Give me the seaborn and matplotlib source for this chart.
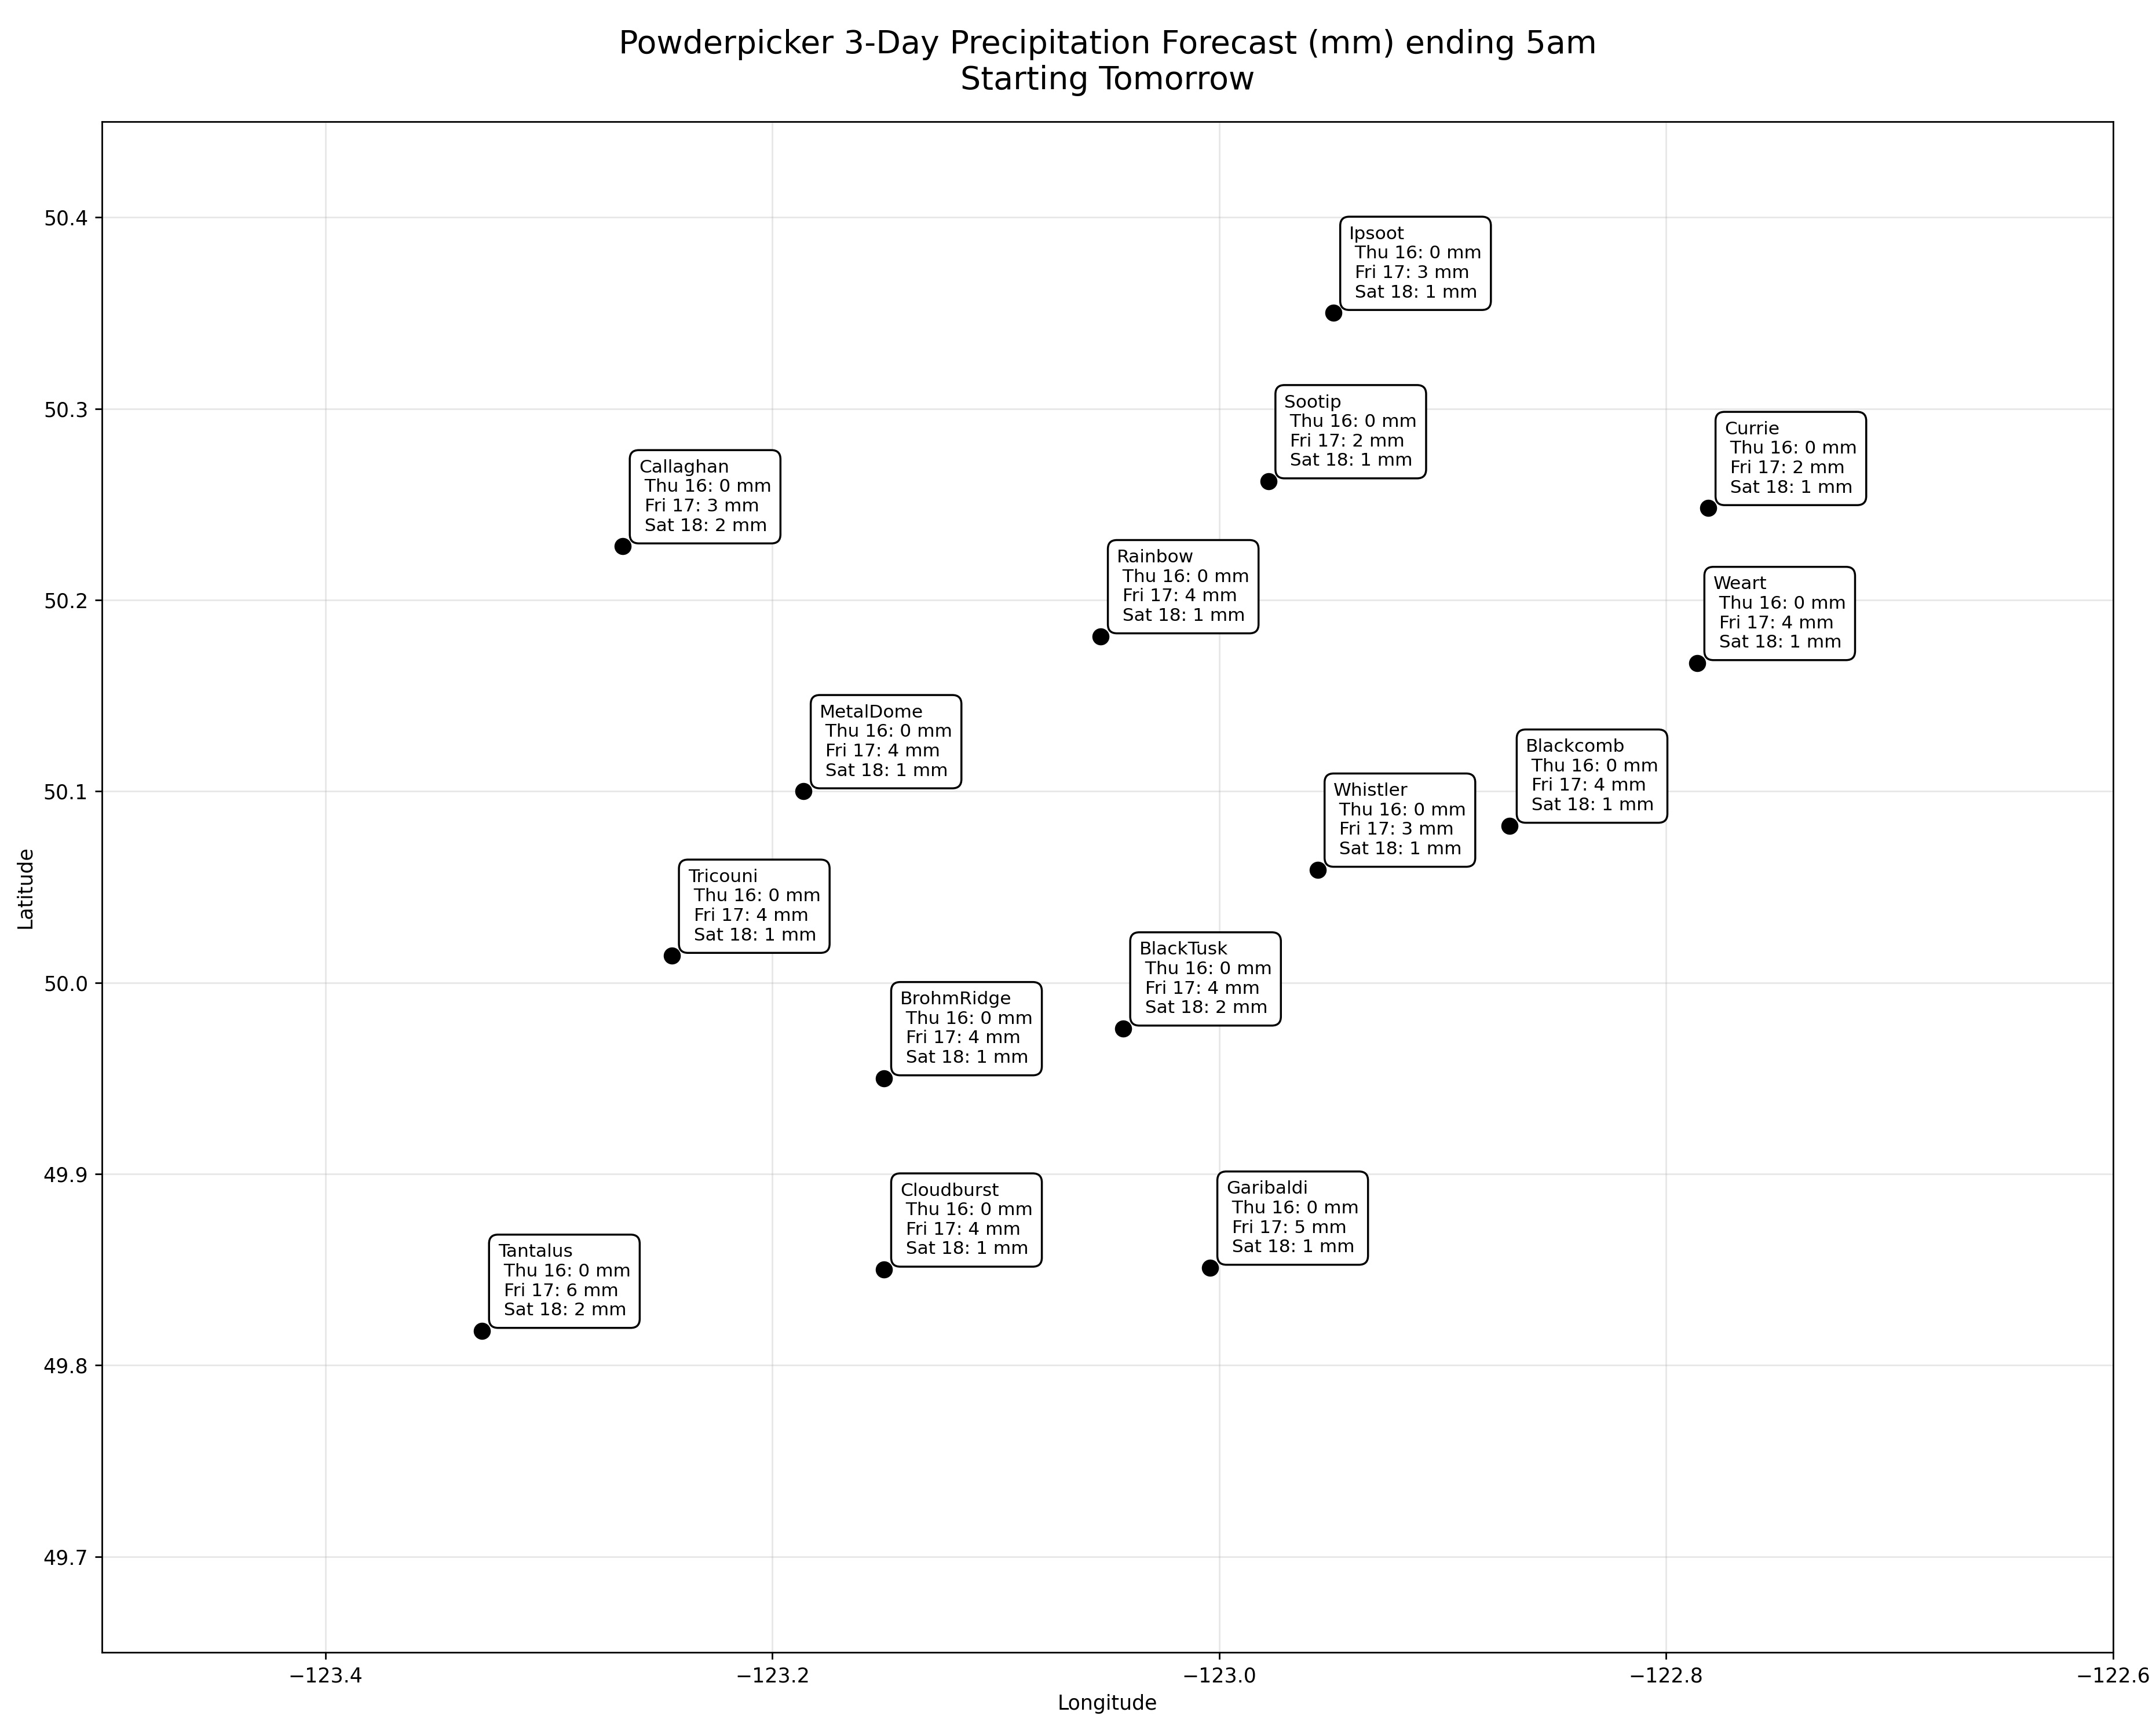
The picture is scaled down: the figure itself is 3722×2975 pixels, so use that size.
import matplotlib
matplotlib.use("Agg")
import matplotlib.pyplot as plt
import pandas as pd
import seaborn as sns

# Station data
names = ["Ipsoot", "Sootip", "Currie", "Callaghan", "Rainbow", "Weart", "MetalDome",
         "Blackcomb", "Whistler", "Tricouni", "BlackTusk", "BrohmRidge", "Cloudburst",
         "Garibaldi", "Tantalus"]
lons = [-122.949, -122.978, -122.781, -123.267, -123.053, -122.786, -123.186,
        -122.870, -122.956, -123.245, -123.043, -123.150, -123.150, -123.004, -123.330]
lats = [50.350, 50.262, 50.248, 50.228, 50.181, 50.167, 50.100,
        50.082, 50.059, 50.014, 49.976, 49.950, 49.850, 49.851, 49.818]
thu16 = [0, 0, 0, 0, 0, 0, 0, 0, 0, 0, 0, 0, 0, 0, 0]
fri17 = [3, 2, 2, 3, 4, 4, 4, 4, 3, 4, 4, 4, 4, 5, 6]
sat18 = [1, 1, 1, 2, 1, 1, 1, 1, 1, 1, 2, 1, 1, 1, 2]

df = pd.DataFrame({"name": names, "lon": lons, "lat": lats,
                   "thu": thu16, "fri": fri17, "sat": sat18})

sns.set_style("ticks", rc={"text.color": "black", "axes.labelcolor": "black",
                           "xtick.color": "black", "ytick.color": "black",
                           "axes.edgecolor": "black", "grid.color": "#b0b0b0"})
plt.rcParams['font.family'] = ['DejaVu Sans']

fig, ax = plt.subplots(figsize=(3722 / 250, 2975 / 250), dpi=250)
sns.scatterplot(data=df, x="lon", y="lat", color="black", s=64, edgecolor="black",
                linewidth=0.5, zorder=3, ax=ax)

for _, r in df.iterrows():
    label = f"{r['name']}\n Thu 16: {r['thu']} mm\n Fri 17: {r['fri']} mm\n Sat 18: {r['sat']} mm"
    ax.annotate(label, (r["lon"], r["lat"]), xytext=(8, 6), textcoords="offset points",
                fontsize=9, color="black", ha="left", va="bottom",
                bbox=dict(boxstyle="round,pad=0.5", fc="white", ec="black", lw=1))

ax.set_xlim(-123.5, -122.6)
ax.set_ylim(49.65, 50.45)
ax.set_xlabel("Longitude")
ax.set_ylabel("Latitude")
ax.set_title("Powderpicker 3-Day Precipitation Forecast (mm) ending 5am\nStarting Tomorrow",
             fontsize=16, pad=16)
ax.grid(True, alpha=0.3)
for sp in ax.spines.values():
    sp.set_visible(True)

plt.subplots_adjust(left=0.0474, right=0.980, top=0.9294, bottom=0.041)
plt.savefig("out.png", dpi=250)
plt.close()
